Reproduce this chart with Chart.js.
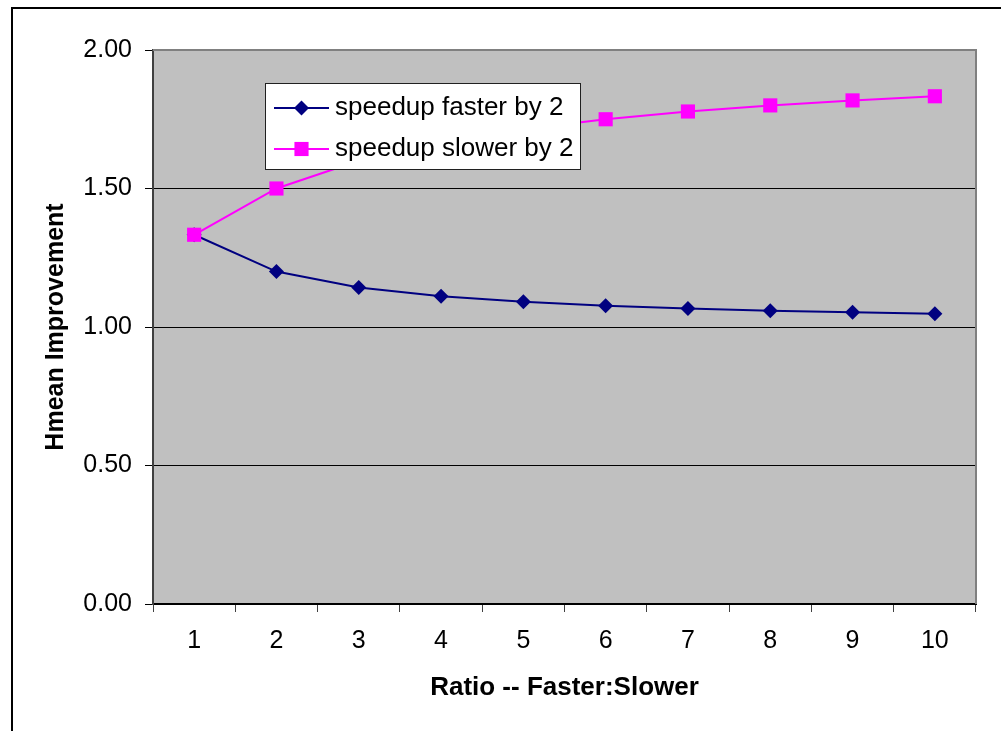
<!DOCTYPE html>
<html>
<head>
<meta charset="utf-8">
<script src="https://cdn.jsdelivr.net/npm/chart.js@4/dist/chart.umd.min.js"></script>
<style>
  body { margin: 0; background: #fff; }
  canvas { display: block; }
</style>
</head>
<body>
<canvas id="hmeanChart" width="1001" height="731"></canvas>
<script>
const ratios = ["1", "2", "3", "4", "5", "6", "7", "8", "9", "10"];
const fasterBy2 = [1.333, 1.2, 1.143, 1.111, 1.091, 1.077, 1.067, 1.059, 1.053, 1.048];
const slowerBy2 = [1.333, 1.5, 1.6, 1.667, 1.714, 1.75, 1.778, 1.8, 1.818, 1.833];
const yTicks = [0, 0.5, 1, 1.5, 2];

const FONT = "'Liberation Sans', Arial, sans-serif";

// grey plot area, frame around the whole picture, grey top/right border
const backdrop = {
  id: "backdrop",
  beforeDraw(chart) {
    const { ctx, chartArea: a } = chart;
    ctx.save();
    ctx.fillStyle = "#fff";
    ctx.fillRect(0, 0, chart.width, chart.height);
    ctx.strokeStyle = "#000";
    ctx.lineWidth = 2;
    ctx.beginPath();
    ctx.moveTo(12, chart.height + 5);
    ctx.lineTo(12, 8);
    ctx.lineTo(chart.width + 5, 8);
    ctx.stroke();
    ctx.fillStyle = "#c0c0c0";
    ctx.fillRect(a.left, a.top, a.right - a.left, a.bottom - a.top);
    ctx.restore();
  },
  beforeDatasetsDraw(chart) {
    const { ctx, chartArea: a } = chart;
    ctx.save();
    ctx.strokeStyle = "#808080";
    ctx.lineWidth = 2;
    ctx.beginPath();
    ctx.moveTo(a.left, a.top);
    ctx.lineTo(a.right, a.top);
    ctx.lineTo(a.right, a.bottom);
    ctx.stroke();
    ctx.restore();
  },
};

// legend box drawn inside the plot, like the original
const boxLegend = {
  id: "boxLegend",
  afterDatasetsDraw(chart) {
    const { ctx } = chart;
    const box = { x: 265, y: 83, w: 315, h: 86 };
    ctx.save();
    ctx.fillStyle = "#fff";
    ctx.fillRect(box.x, box.y, box.w, box.h);
    ctx.strokeStyle = "#202020";
    ctx.lineWidth = 1;
    ctx.strokeRect(box.x + 0.5, box.y + 0.5, box.w, box.h);

    chart.data.datasets.forEach((ds, i) => {
      const y = 108 + i * 41;
      ctx.strokeStyle = ds.borderColor;
      ctx.lineWidth = 2;
      ctx.beginPath();
      ctx.moveTo(274, y);
      ctx.lineTo(329, y);
      ctx.stroke();

      ctx.fillStyle = ds.backgroundColor;
      ctx.beginPath();
      if (ds.pointStyle === "rectRot") {
        const r = ds.pointRadius;
        ctx.moveTo(301.5, y - r);
        ctx.lineTo(301.5 + r, y);
        ctx.lineTo(301.5, y + r);
        ctx.lineTo(301.5 - r, y);
        ctx.closePath();
      } else {
        const s = Math.SQRT1_2 * ds.pointRadius;
        ctx.rect(301.5 - s, y - s, 2 * s, 2 * s);
      }
      ctx.fill();

      ctx.fillStyle = "#000";
      ctx.font = "26px " + FONT;
      ctx.textAlign = "left";
      ctx.textBaseline = "middle";
      ctx.fillText(ds.label, 335, y);
    });
    ctx.restore();
  },
};

new Chart(document.getElementById("hmeanChart"), {
  type: "line",
  data: {
    labels: ratios,
    datasets: [
      {
        label: "speedup faster by 2",
        data: fasterBy2,
        order: 1,
        borderColor: "#000080",
        backgroundColor: "#000080",
        borderWidth: 2,
        pointStyle: "rectRot",
        pointRadius: 7.5,
        pointBorderWidth: 0,
      },
      {
        label: "speedup slower by 2",
        data: slowerBy2,
        order: 0,
        borderColor: "#ff00ff",
        backgroundColor: "#ff00ff",
        borderWidth: 2,
        pointStyle: "rect",
        pointRadius: 10,
        pointBorderWidth: 0,
      },
    ],
  },
  options: {
    responsive: false,
    animation: false,
    devicePixelRatio: 1,
    layout: { padding: { top: 50, right: 25, left: 0, bottom: 0 } },
    plugins: {
      legend: { display: false },
      tooltip: { enabled: false },
    },
    scales: {
      x: {
        type: "category",
        offset: true,
        afterFit: (scale) => { scale.height = 127; },
        grid: {
          offset: true,
          drawOnChartArea: false,
          drawTicks: true,
          tickLength: 8,
          tickColor: "#404040",
        },
        border: { color: "#000", width: 2 },
        ticks: {
          color: "#000",
          padding: 14,
          maxRotation: 0,
          font: { family: FONT, size: 25 },
        },
        title: {
          display: true,
          text: "Ratio -- Faster:Slower",
          color: "#000",
          font: { family: FONT, size: 26, weight: "bold" },
          padding: { top: 0, bottom: 28 },
        },
      },
      y: {
        min: 0,
        max: 2,
        afterFit: (scale) => { scale.width = 153; },
        afterBuildTicks: (scale) => {
          scale.ticks = yTicks.map((v) => ({ value: v }));
        },
        grid: {
          color: (ctx) =>
            ctx.tick && (ctx.tick.value === 0 || ctx.tick.value === 2)
              ? "rgba(0,0,0,0)"
              : "#000",
          lineWidth: 1,
          tickLength: 8,
          tickColor: "#000",
        },
        border: { color: "#404040", width: 2 },
        ticks: {
          color: "#000",
          padding: 13,
          font: { family: FONT, size: 25 },
          callback: (v) => Number(v).toFixed(2),
        },
        title: {
          display: true,
          text: "Hmean Improvement",
          color: "#000",
          font: { family: FONT, size: 25, weight: "bold" },
          padding: { top: 41, bottom: 0 },
        },
      },
    },
  },
  plugins: [backdrop, boxLegend],
});
</script>
</body>
</html>
